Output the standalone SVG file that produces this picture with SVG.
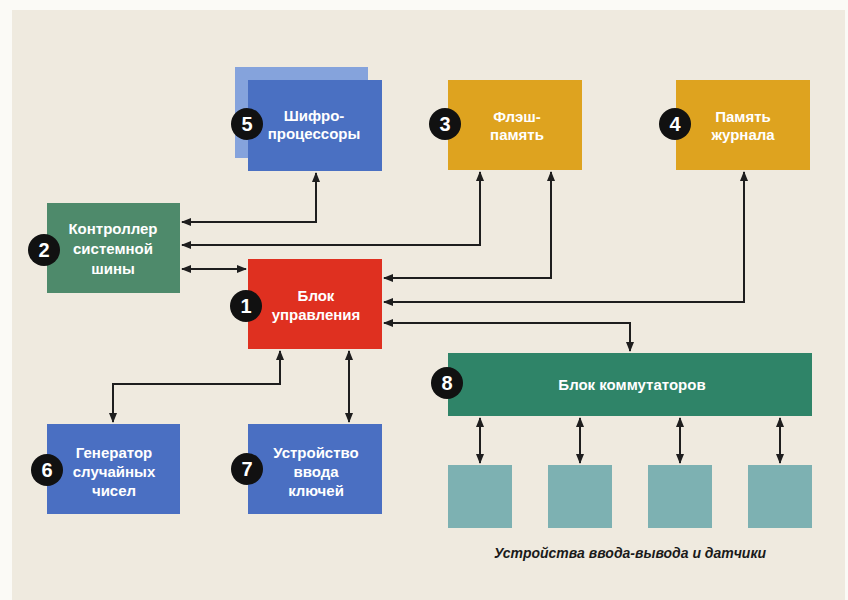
<svg xmlns="http://www.w3.org/2000/svg" width="848" height="600" viewBox="0 0 848 600">
<defs>
<marker id="ah" viewBox="0 0 10 8" refX="9" refY="4" markerWidth="10" markerHeight="8" markerUnits="userSpaceOnUse" orient="auto-start-reverse">
<path d="M0,0 L10,4 L0,8 z" fill="#1e1e1e"/>
</marker>
<style>
.lbl{font-family:"Liberation Sans Narrow","Liberation Sans",Arial,sans-serif;font-weight:bold;font-size:15px;fill:#ffffff;text-anchor:middle}
.num{font-family:"Liberation Sans",Arial,sans-serif;font-weight:bold;font-size:20px;fill:#ffffff;text-anchor:middle}
.badge{fill:#111111}
.con{fill:none;stroke:#1e1e1e;stroke-width:2;marker-start:url(#ah);marker-end:url(#ah)}
.cap{font-family:"Liberation Sans Narrow","Liberation Sans",Arial,sans-serif;font-weight:bold;font-style:italic;font-size:14px;fill:#1a1a1a;text-anchor:middle}
.io{fill:#7db1b2}
</style>
</defs>
<rect x="0" y="0" width="848" height="600" fill="#fbfaf6"/>
<rect x="12" y="10" width="833" height="590" fill="#efeadf"/>

<g id="connectors">
<path class="con" d="M316,173 V222 H182"/>
<path class="con" d="M480,172 V245 H182"/>
<path class="con" d="M182,269 H246"/>
<path class="con" d="M551,172 V278 H384"/>
<path class="con" d="M744,172 V302 H384"/>
<path class="con" d="M384,323 H630 V351"/>
<path class="con" d="M280,351 V384 H113 V422"/>
<path class="con" d="M349,351 V422"/>
<path class="con" d="M480,418 V463"/>
<path class="con" d="M580,418 V463"/>
<path class="con" d="M680,418 V463"/>
<path class="con" d="M780,418 V463"/>
</g>

<g id="node5">
<rect x="235" y="67" width="133" height="91" fill="#85a3dc"/>
<rect x="248" y="80" width="134" height="91" fill="#4a70c2"/>
<text class="lbl" x="314" y="121">Шифро-</text>
<text class="lbl" x="314" y="139">процессоры</text>
<circle class="badge" cx="247" cy="124" r="16"/>
<text class="num" x="247" y="131">5</text>
</g>

<g id="node3">
<rect x="448" y="80" width="134" height="90" fill="#dea31f"/>
<text class="lbl" x="517" y="122">Флэш-</text>
<text class="lbl" x="517" y="140">память</text>
<circle class="badge" cx="445" cy="124" r="16"/>
<text class="num" x="445" y="131">3</text>
</g>

<g id="node4">
<rect x="676" y="80" width="134" height="90" fill="#dea31f"/>
<text class="lbl" x="743" y="122">Память</text>
<text class="lbl" x="743" y="140">журнала</text>
<circle class="badge" cx="675" cy="124" r="16"/>
<text class="num" x="675" y="131">4</text>
</g>

<g id="node2">
<rect x="47" y="203" width="133" height="90" fill="#4e8a6b"/>
<text class="lbl" x="113" y="234">Контроллер</text>
<text class="lbl" x="113" y="254">системной</text>
<text class="lbl" x="113" y="274">шины</text>
<circle class="badge" cx="44" cy="250" r="16"/>
<text class="num" x="44" y="257">2</text>
</g>

<g id="node1">
<rect x="248" y="259" width="134" height="90" fill="#df3020"/>
<text class="lbl" x="316" y="301">Блок</text>
<text class="lbl" x="316" y="320">управления</text>
<circle class="badge" cx="246" cy="306" r="16"/>
<text class="num" x="246" y="313">1</text>
</g>

<g id="node6">
<rect x="47" y="424" width="133" height="90" fill="#4a6fc2"/>
<text class="lbl" x="114" y="458">Генератор</text>
<text class="lbl" x="114" y="477">случайных</text>
<text class="lbl" x="114" y="496">чисел</text>
<circle class="badge" cx="47" cy="470" r="16"/>
<text class="num" x="47" y="477">6</text>
</g>

<g id="node7">
<rect x="248" y="424" width="134" height="90" fill="#4a6fc2"/>
<text class="lbl" x="316" y="458">Устройство</text>
<text class="lbl" x="316" y="477">ввода</text>
<text class="lbl" x="316" y="496">ключей</text>
<circle class="badge" cx="247" cy="469" r="16"/>
<text class="num" x="247" y="476">7</text>
</g>

<g id="node8">
<rect x="448" y="353" width="364" height="63" fill="#2f8468"/>
<text class="lbl" x="632" y="390">Блок коммутаторов</text>
<circle class="badge" cx="447" cy="383" r="16"/>
<text class="num" x="447" y="390">8</text>
</g>

<g id="io1"><rect class="io" x="448" y="465" width="64" height="63"/></g>
<g id="io2"><rect class="io" x="548" y="465" width="64" height="63"/></g>
<g id="io3"><rect class="io" x="648" y="465" width="64" height="63"/></g>
<g id="io4"><rect class="io" x="748" y="465" width="64" height="63"/></g>

<text class="cap" x="630" y="558">Устройства ввода-вывода и датчики</text>
</svg>
